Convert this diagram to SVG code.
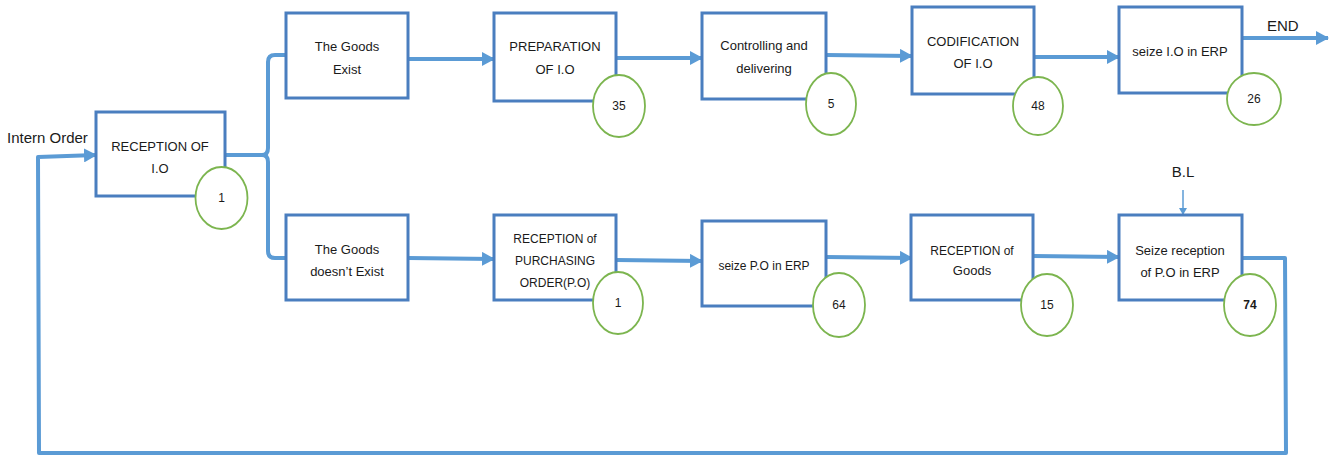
<svg xmlns="http://www.w3.org/2000/svg" width="1337" height="457" viewBox="0 0 1337 457">
<style>
.box{fill:#fff;stroke:#4a7ebf;stroke-width:3}
.num{fill:#fff;stroke:#7cb54f;stroke-width:1.8}
.t{font-family:"Liberation Sans",Arial,sans-serif;font-size:13px;fill:#1a1a1a;text-anchor:middle}
.s{font-size:12px}
.n{font-family:"Liberation Sans",Arial,sans-serif;font-size:12px;fill:#1a1a1a;text-anchor:middle}
.lbl{font-family:"Liberation Sans",Arial,sans-serif;font-size:15px;fill:#1a1a1a}
.c{fill:none;stroke:#5b9bd5;stroke-width:4;stroke-linejoin:round}
.thin{fill:none;stroke:#5b9bd5;stroke-width:1.5}
</style>
<defs>
<marker id="ah" markerUnits="userSpaceOnUse" markerWidth="14" markerHeight="14" refX="12" refY="7" orient="auto">
<path d="M0,0 L13,7 L0,14 Z" fill="#5b9bd5"/>
</marker>
<marker id="ahs" markerUnits="userSpaceOnUse" markerWidth="8" markerHeight="8" refX="7" refY="4" orient="auto">
<path d="M0,0 L7,4 L0,8 Z" fill="#5b9bd5"/>
</marker>
</defs>
<g id="connectors">
<path class="c" d="M225,155 L262,155 Q268,155 268,148 L268,62 Q268,55 275,55 L286,55"/>
<path class="c" d="M262,155 Q268,155 268,162 L268,251 Q268,258 275,258 L286,258"/>
<path class="c" d="M408,59 L494,59" marker-end="url(#ah)"/>
<path class="c" d="M616,58 L702,58" marker-end="url(#ah)"/>
<path class="c" d="M826,55 L912,56" marker-end="url(#ah)"/>
<path class="c" d="M1034,57 L1119,57" marker-end="url(#ah)"/>
<path class="c" d="M1242,38 L1328,38" marker-end="url(#ah)"/>
<path class="c" d="M408,258 L494,259" marker-end="url(#ah)"/>
<path class="c" d="M616,260 L702,261" marker-end="url(#ah)"/>
<path class="c" d="M826,257 L912,258" marker-end="url(#ah)"/>
<path class="c" d="M1033,256 L1119,257" marker-end="url(#ah)"/>
<path class="c" d="M1242,258 L1285,258 L1286,453 L39,453 L38,157 L96,155" marker-end="url(#ah)"/>
<path class="thin" d="M1183,190 L1183,215" marker-end="url(#ahs)"/>
</g>
<text class="lbl" x="7" y="143">Intern Order</text>
<text class="lbl" x="1267" y="31">END</text>
<text class="lbl" x="1183" y="177" text-anchor="middle">B.L</text>
<g id="n_reception_io">
<rect class="box" x="96" y="112" width="129" height="84"/>
<text class="t" x="160" y="151">RECEPTION OF</text>
<text class="t" x="160" y="173">I.O</text>
<ellipse class="num" cx="221.5" cy="198" rx="26" ry="31"/>
<text class="n" x="221.5" y="202">1</text>
</g>
<g id="n_goods_exist">
<rect class="box" x="286" y="13" width="122" height="85"/>
<text class="t" x="347" y="51">The Goods</text>
<text class="t" x="347" y="74">Exist</text>
</g>
<g id="n_preparation">
<rect class="box" x="494" y="13" width="122" height="88"/>
<text class="t" x="555" y="51">PREPARATION</text>
<text class="t" x="555" y="74">OF I.O</text>
<ellipse class="num" cx="619" cy="106" rx="26" ry="31"/>
<text class="n" x="619" y="110">35</text>
</g>
<g id="n_controlling">
<rect class="box" x="702" y="13" width="124" height="86"/>
<text class="t" x="764" y="50">Controlling and</text>
<text class="t" x="764" y="73">delivering</text>
<ellipse class="num" cx="831" cy="104" rx="25" ry="31"/>
<text class="n" x="831" y="108">5</text>
</g>
<g id="n_codification">
<rect class="box" x="912" y="7" width="122" height="87"/>
<text class="t" x="973" y="46">CODIFICATION</text>
<text class="t" x="973" y="68">OF I.O</text>
<ellipse class="num" cx="1038" cy="106" rx="25" ry="29"/>
<text class="n" x="1038" y="110">48</text>
</g>
<g id="n_seize_io">
<rect class="box" x="1119" y="7" width="123" height="86"/>
<text class="t" x="1180" y="56">seize I.O in ERP</text>
<ellipse class="num" cx="1254" cy="99" rx="27" ry="26"/>
<text class="n" x="1254" y="103">26</text>
</g>
<g id="n_goods_not_exist">
<rect class="box" x="286" y="215" width="122" height="85"/>
<text class="t" x="347" y="254">The Goods</text>
<text class="t" x="347" y="276">doesn’t Exist</text>
</g>
<g id="n_reception_po">
<rect class="box" x="494" y="215" width="122" height="85"/>
<text class="t s" x="555" y="243">RECEPTION of</text>
<text class="t s" x="555" y="265">PURCHASING</text>
<text class="t s" x="555" y="287">ORDER(P.O)</text>
<ellipse class="num" cx="618" cy="303" rx="25" ry="31"/>
<text class="n" x="618" y="307">1</text>
</g>
<g id="n_seize_po">
<rect class="box" x="702" y="221" width="124" height="85"/>
<text class="t s" x="764" y="270">seize P.O in ERP</text>
<ellipse class="num" cx="839" cy="305" rx="26" ry="32"/>
<text class="n" x="839" y="309">64</text>
</g>
<g id="n_reception_goods">
<rect class="box" x="911" y="215" width="122" height="85"/>
<text class="t s" x="972" y="255">RECEPTION of</text>
<text class="t" x="972" y="275">Goods</text>
<ellipse class="num" cx="1047" cy="305" rx="26" ry="31"/>
<text class="n" x="1047" y="309">15</text>
</g>
<g id="n_seize_reception">
<rect class="box" x="1119" y="215" width="123" height="85"/>
<text class="t" x="1180" y="255">Seize reception</text>
<text class="t" x="1180" y="277">of P.O in ERP</text>
<ellipse class="num" cx="1250" cy="305" rx="26" ry="31"/>
<text class="n" x="1250" y="309" font-weight="bold">74</text>
</g>
</svg>
